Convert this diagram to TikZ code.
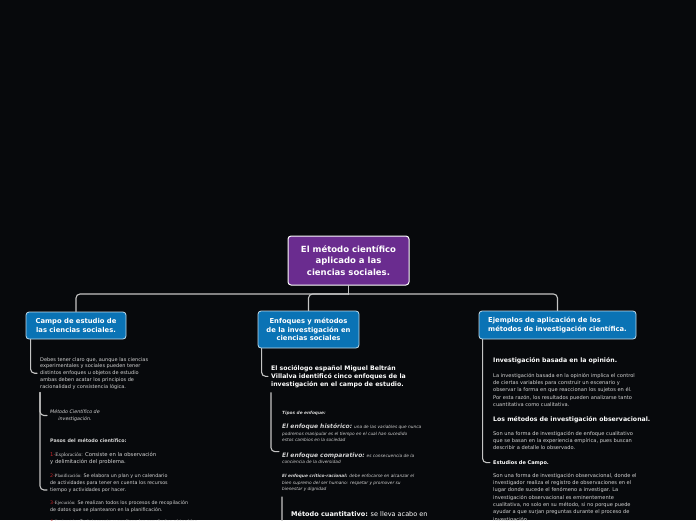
\documentclass[tikz,border=0pt]{standalone}
\usepackage{fontspec}
\setmainfont{DejaVu Sans}
\newfontfamily\kwfont{Liberation Serif}
\usetikzlibrary{calc}
\definecolor{bgdark}{HTML}{07090C}
\definecolor{rootpurple}{HTML}{6A2C8F}
\definecolor{topicblue}{HTML}{0A73B5}
\definecolor{linkgray}{HTML}{C4C4C4}
\definecolor{bodygray}{HTML}{D4D4D4}
\definecolor{numred}{HTML}{C4262A}
\newcommand\fsz[2]{\fontsize{#1}{#2}\selectfont}
\tikzset{
  every picture/.style={line join=round, line cap=round},
  root/.style={draw=white, line width=1pt, fill=rootpurple, rounded corners=3pt, text=white,
    font=\bfseries\fsz{8.5}{11.8}, align=center, minimum width=121pt, minimum height=49pt},
  topic/.style={draw=white!75!topicblue, line width=0.8pt, fill=topicblue, rounded corners=3pt,
    text=white, font=\bfseries\fsz{6.8}{8.6}, align=center, inner xsep=4pt},
  link/.style={draw=linkgray, line width=1.1pt, rounded corners=4pt},
  body/.style={anchor=north west, inner sep=0pt, text=bodygray, align=left, font=\fsz{5}{6.8}},
  head/.style={anchor=north west, inner sep=0pt, text=white, align=left, font=\bfseries\fsz{6.2}{8}},
}
\begin{document}
\begin{tikzpicture}[x=1pt,y=-1pt]
\fill[bgdark] (0,0) rectangle (696,520);
\useasboundingbox (0,0) rectangle (696,520);
% central topic and main branches
\node[root] (main) at (348.5,260.5) {El método científico\\aplicado a las\\ciencias sociales.};
\node[topic, minimum width=100pt, minimum height=27pt] (campo) at (76,325.5) {Campo de estudio de\\las ciencias sociales.};
\node[topic, minimum width=101pt, minimum height=37pt] (enfoques) at (308.5,329.5) {Enfoques y métodos\\de la investigación en\\ciencias sociales};
\node[topic, minimum width=157pt, minimum height=28pt, align=left] (ejemplos) at (557.5,325) {Ejemplos de aplicación de los\\métodos de investigación científica.};
\coordinate (bar) at (348.5,294);
\draw[link] (main.south) -- (bar);
\draw[link] (bar) -| (campo.north);
\draw[link] (bar) -| (enfoques.north);
\draw[link] (bar) -| (ejemplos.north);
% left branch
\node[body] (debes) at (40,357) {Debes tener claro que, aunque las ciencias\\experimentales y sociales pueden tener\\distintos enfoques u objetos de estudio\\ambas deben acatar los principios de\\racionalidad y consistencia lógica.};
\node[body, align=center, font=\itshape\fsz{4.8}{6.8}] (metodo) at (50,409.5) {Método Científico de\\investigación.};
\node[body, font=\fsz{4.8}{6.8}] (pasos) at (50,438.5) {\textbf{Pasos del método científico:}\\[7pt]
\fsz{5.3}{6.8}\textcolor{numred}{1-}{\kwfont Exploración:} Consiste en la observación\\
\fsz{5.3}{6.8}y delimitación del problema.\\[7.5pt]
\fsz{4.8}{6.8}\textcolor{numred}{2-}{\kwfont Planificación:} Se elabora un plan y un calendario\\
de actividades para tener en cuenta los recursos\\
tiempo y actividades por hacer.\\[6.5pt]
\textcolor{numred}{3-}{\kwfont Ejecución:} Se realizan todos los procesos de recopilación\\
de datos que se plantearon en la planificación.\\[5.5pt]
\textcolor{numred}{4-}{\kwfont Evaluación:} Se interpreta y analizan los resultados obtenidos};
\coordinate (pasosin) at (47,490);
\draw[link] ($(campo.south west)+(5,0)$) |- ($(debes.west)+(-3,0)$);
\draw[link] ($(debes.south west)+(0,3)$) |- ($(metodo.west)+(-3,0)$);
\draw[link] ($(debes.south west)+(0,3)$) |- (pasosin);
% middle branch
\node[head] (beltran) at (271,365) {El sociólogo español Miguel Beltrán\\Villalva identificó cinco enfoques de la\\investigación en el campo de estudio.};
\node[body, font=\itshape\fsz{4.3}{6.6}] (tipos) at (282,411.5) {\textbf{Tipos de enfoque:}\\[7pt]
{\bfseries\fsz{6}{6.6}El enfoque histórico:} una de las variables que nunca\\
podremos manipular es el tiempo en el cual han sucedido\\
estos cambios en la sociedad\\[9pt]
{\bfseries\fsz{6}{6.6}El enfoque comparativo:} es consecuencia de la\\
conciencia de la diversidad\\[7pt]
\textbf{El enfoque crítico-racional:} debe enfocarse en alcanzar el\\
bien supremo del ser humano: respetar y promover su\\
bienestar y dignidad};
\node[body, text=white, font=\fsz{6.5}{8}] (cuanti) at (291,511.5) {\textbf{Método cuantitativo:} se lleva acabo en};
\coordinate (cuantiin) at (289,548);
\draw[link] ($(enfoques.south west)+(4,0)$) |- ($(beltran.west)+(-3,0)$);
\draw[link] ($(beltran.south west)+(0,5)$) |- ($(tipos.west)+(-3,0)$);
\draw[link] ($(tipos.south west)+(0,5)$) |- (cuantiin);
% right branch
\node[head] (opinion) at (493,357.5) {Investigación basada en la opinión.};
\node[body, font=\fsz{5.1}{7.3}] (opinionbody) at (493,373) {La investigación basada en la opinión implica el control\\de ciertas variables para construir un escenario y\\observar la forma en que reaccionan los sujetos en él.\\Por esta razón, los resultados pueden analizarse tanto\\cuantitativa como cualitativa.};
\node[head] (observ) at (493,416.5) {Los métodos de investigación observacional.};
\node[body, font=\fsz{5.1}{7.3}] (observbody) at (493,431) {Son una forma de investigación de enfoque cualitativo\\que se basan en la experiencia empírica, pues buscan\\describir a detalle lo observado.};
\node[head, font=\bfseries\fsz{5}{7}] (estudios) at (493,460) {Estudios de Campo.};
\node[body, font=\fsz{5.1}{7.3}] (estudiosbody) at (493,473) {Son una forma de investigación observacional, donde el\\investigador realiza el registro de observaciones en el\\lugar donde sucede el fenómeno a investigar. La\\investigación observacional es eminentemente\\cualitativa, no solo en su método, si no porque puede\\ayudar a que surjan preguntas durante el proceso de\\investigación.};
\draw[link] ($(ejemplos.south west)+(4,0)$) |- ($(estudios.west)+(-3,0)$);
\end{tikzpicture}
\end{document}
